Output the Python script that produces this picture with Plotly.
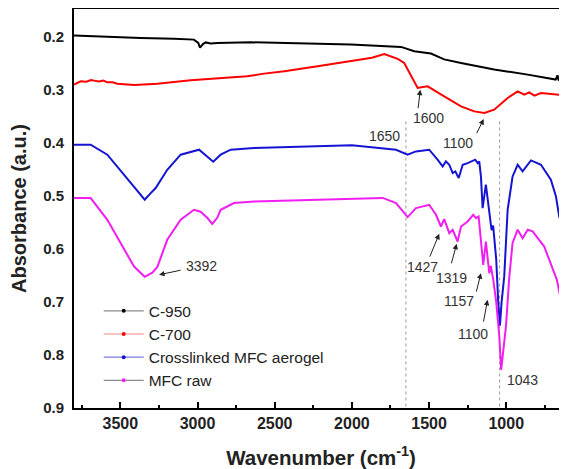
import plotly.graph_objects as go

# ---------------- data ----------------
series_names = ["C-950", "C-700", "Crosslinked MFC aerogel", "MFC raw"]

black_wn = [3800, 3584, 3368, 3152, 3023, 2995, 2984, 2965, 2947, 2915, 2872, 2654, 2373,
            2006, 1682, 1596, 1488, 1402, 1293, 1078, 861, 754, 680, 668, 662, 646, 602]
black_A = [0.198, 0.2006, 0.2025, 0.204, 0.2057, 0.212, 0.221, 0.214, 0.211, 0.213, 0.212,
           0.2107, 0.212, 0.2151, 0.2194, 0.2277, 0.232, 0.243, 0.2497, 0.262, 0.2717,
           0.277, 0.281, 0.273, 0.281, 0.284, 0.288]

red_wn = [3800, 3780, 3757, 3720, 3690, 3670, 3640, 3610, 3584, 3550, 3519, 3411, 3260, 3044,
          2828, 2678, 2569, 2438, 2222, 2006, 1870, 1790, 1703, 1661, 1617, 1574, 1550, 1509,
          1402, 1293, 1207, 1142, 1078, 991, 926, 883, 851, 818, 775, 689, 602]
red_A = [0.2906, 0.287, 0.2843, 0.285, 0.282, 0.283, 0.2845, 0.283, 0.2862, 0.286, 0.2887,
         0.2912, 0.2887, 0.2824, 0.2787, 0.2749, 0.2698, 0.2654, 0.256, 0.2466, 0.240,
         0.2327, 0.242, 0.2497, 0.2749, 0.2968, 0.2955, 0.2937, 0.3126, 0.3315, 0.341,
         0.344, 0.3377, 0.3157, 0.3032, 0.3094, 0.305, 0.3113, 0.3063, 0.3082, 0.3113]

blue_wn = [3800, 3692, 3584, 3476, 3390, 3342, 3303, 3271, 3196, 3109, 2990, 2937, 2898,
           2850, 2785, 2634, 2300, 2000, 1714, 1639, 1585, 1499, 1445, 1412, 1391, 1369,
           1347, 1330, 1308, 1282, 1250, 1218, 1201, 1185, 1175, 1164, 1153, 1132, 1110,
           1095, 1085, 1065, 1052, 1041, 1030, 1013, 991, 959, 926, 894, 840, 775, 711,
           678, 657, 635, 602]
blue_A = [0.4038, 0.4038, 0.4226, 0.4604, 0.4925, 0.5075, 0.495, 0.4855, 0.451, 0.4226,
          0.4132, 0.4264, 0.4358, 0.4226, 0.4132, 0.41, 0.407, 0.405, 0.4132, 0.4226,
          0.4164, 0.4132, 0.432, 0.4447, 0.4352, 0.4415, 0.4572, 0.4541, 0.4666, 0.4415,
          0.4384, 0.4352, 0.432, 0.4384, 0.4352, 0.4636, 0.5232, 0.4792, 0.533, 0.565,
          0.556, 0.62, 0.70, 0.745, 0.70, 0.652, 0.5264, 0.4636, 0.4415, 0.454, 0.4334,
          0.4415, 0.4698, 0.5013, 0.539, 0.5358, 0.5704]

mag_wn = [3800, 3692, 3584, 3498, 3411, 3342, 3293, 3260, 3196, 3109, 3023, 2980, 2937,
          2904, 2872, 2850, 2764, 2634, 2300, 2000, 1800, 1714, 1639, 1585, 1499, 1455,
          1423, 1402, 1369, 1347, 1315, 1293, 1250, 1214, 1196, 1179, 1164, 1149, 1132,
          1110, 1100, 1084, 1065, 1045, 1033, 1020, 1002, 980, 959, 926, 894, 861, 829,
          754, 700, 672, 646, 624, 602]
mag_A = [0.5044, 0.5044, 0.5453, 0.589, 0.6334, 0.6528, 0.645, 0.634, 0.583, 0.5453,
         0.5264, 0.530, 0.5415, 0.553, 0.5415, 0.5264, 0.5138, 0.5107, 0.508, 0.505, 0.504,
         0.5138, 0.5402, 0.5232, 0.517, 0.5358, 0.5579, 0.544, 0.5704, 0.5641, 0.5862,
         0.5579, 0.5484, 0.5358, 0.5421, 0.539, 0.5798, 0.6302, 0.5862, 0.6459, 0.632,
         0.6585, 0.70, 0.765, 0.828, 0.79, 0.7466, 0.652, 0.589, 0.564, 0.58, 0.564, 0.567,
         0.5957, 0.6396, 0.6585, 0.6962, 0.7025, 0.731]

x_ticks = [3500, 3000, 2500, 2000, 1500, 1000]
y_ticks = [0.2, 0.3, 0.4, 0.5, 0.6, 0.7, 0.8, 0.9]

# peak labels: (text, label wn, label A, arrow head wn, head A, arrow tail wn, tail A)
peak_labels = [
    ("3392", 2974, 0.632, 3249, 0.649, 3099, 0.6396),
    ("1600", 1501, 0.3528, 1557, 0.300, 1572, 0.3377),
    ("1100", 1310, 0.400, 1146, 0.3553, 1196, 0.385),
    ("1427", 1542, 0.635, 1434, 0.5717, 1499, 0.6175),
    ("1319", 1356, 0.6547, 1321, 0.5906, 1358, 0.6302),
    ("1157", 1306, 0.698, 1164, 0.6459, 1196, 0.6836),
    ("1100", 1218, 0.7604, 1121, 0.696, 1149, 0.740),
]
plain_labels = [("1650", 1786, 0.3868), ("1043", 898, 0.847)]
guide_wn = [1650, 1043]
guide_top = 0.36

# ---------------- styles ----------------
colors = ["#000000", "#ff0000", "#1414d2", "#f01ef0"]
legend_line_colors = ["#8c8c8c", "#f08a8a", "#7a7ae0", "#8c8c8c"]
FONT = "Liberation Sans, Arial, sans-serif"

fig = go.Figure()
for wn, A, c in zip([black_wn, red_wn, blue_wn, mag_wn], [black_A, red_A, blue_A, mag_A], colors):
    fig.add_trace(go.Scatter(x=wn, y=A, mode="lines", line=dict(color=c, width=2),
                             showlegend=False, hoverinfo="skip"))
for name, c, lc in zip(series_names, colors, legend_line_colors):
    fig.add_trace(go.Scatter(x=[None], y=[None], mode="lines+markers", name=name,
                             line=dict(color=lc, width=1.2),
                             marker=dict(color=c, size=4)))

for wn in guide_wn:
    fig.add_shape(type="line", xref="x", yref="y", x0=wn, x1=wn, y0=guide_top, y1=0.9,
                  line=dict(color="#9a9a9a", width=1, dash="dot"), layer="below")

ann = []
for t, lx, ly, hx, hy, tx, ty in peak_labels:
    ann.append(dict(x=hx, y=hy, ax=tx, ay=ty, xref="x", yref="y", axref="x", ayref="y",
                    text="", showarrow=True, arrowhead=2, arrowsize=1.1, arrowwidth=1,
                    arrowcolor="#222222"))
    ann.append(dict(x=lx, y=ly, xref="x", yref="y", text=t, showarrow=False,
                    font=dict(family=FONT, size=14, color="#333333")))
for t, lx, ly in plain_labels:
    ann.append(dict(x=lx, y=ly, xref="x", yref="y", text=t, showarrow=False,
                    font=dict(family=FONT, size=14, color="#333333")))

fig.update_layout(
    width=560, height=461,
    margin=dict(l=66, r=0, t=1, b=61),
    paper_bgcolor="white", plot_bgcolor="white",
    font=dict(family=FONT, color="#222222"),
    annotations=ann,
    legend=dict(x=0.05, y=0.285, xanchor="left", yanchor="top",
                bgcolor="rgba(0,0,0,0)", font=dict(family=FONT, size=15.5, color="#222222"),
                itemwidth=40, tracegroupgap=0),
)
fig.update_xaxes(
    range=[3800, 600], tickvals=x_ticks, ticktext=[str(v) for v in x_ticks],
    ticks="inside", ticklen=6, tickwidth=2, tickcolor="black",
    minor=dict(dtick=250, tick0=0, ticks="inside", ticklen=3, tickwidth=1.5, tickcolor="black"),
    showline=True, linewidth=2, linecolor="black", mirror=True, showgrid=False, zeroline=False,
    tickfont=dict(family=FONT, size=16, color="#222222", weight="bold"),
    title=dict(text="Wavenumber (cm<sup>-1</sup>)", standoff=19,
               font=dict(family=FONT, size=20.5, color="#222222", weight="bold")),
)
fig.update_yaxes(
    range=[0.9, 0.148], tickvals=y_ticks, ticktext=["%.1f" % v for v in y_ticks],
    ticks="", showline=True, linewidth=2, linecolor="black", showgrid=False, zeroline=False,
    ticklabelstandoff=5,
    tickfont=dict(family=FONT, size=15, color="#222222", weight="bold"),
    title=dict(text="Absorbance (a.u.)", standoff=14,
               font=dict(family=FONT, size=20, color="#222222", weight="bold")),
)

fig.write_html("out.html")
